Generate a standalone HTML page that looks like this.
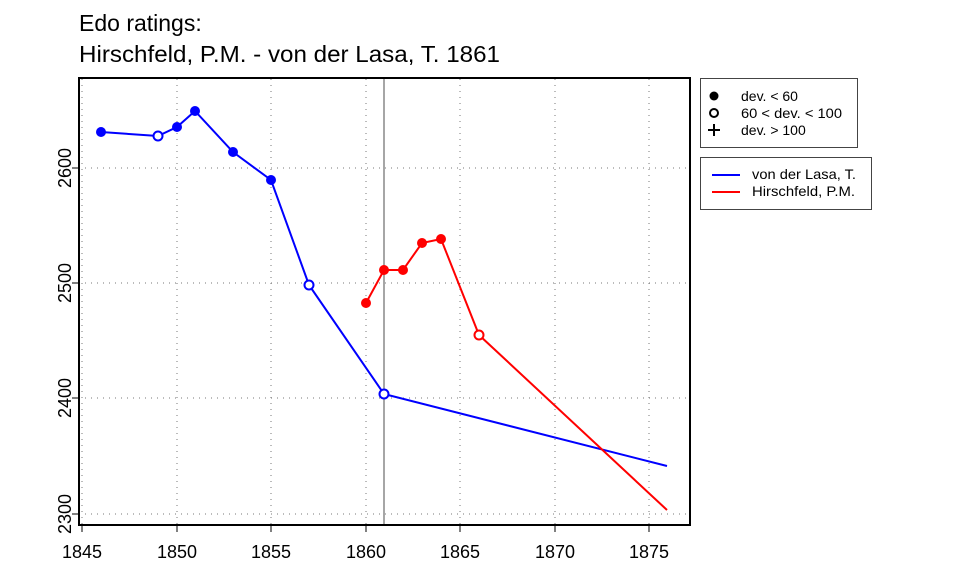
<!DOCTYPE html>
<html><head><style>body{margin:0;background:#fff}svg{display:block}text{font-family:"Liberation Sans",sans-serif}</style></head><body>
<svg width="960" height="576" viewBox="0 0 960 576" xmlns="http://www.w3.org/2000/svg">
<text x="79" y="31" font-size="23">Edo ratings:</text>
<text x="79" y="62" font-size="23" textLength="421" lengthAdjust="spacingAndGlyphs">Hirschfeld, P.M. - von der Lasa, T. 1861</text>
<g stroke="#777" stroke-dasharray="1,5" stroke-width="1">
<line x1="82" y1="79" x2="82" y2="525"/><line x1="177" y1="79" x2="177" y2="525"/><line x1="271" y1="79" x2="271" y2="525"/><line x1="366" y1="79" x2="366" y2="525"/><line x1="460" y1="79" x2="460" y2="525"/><line x1="555" y1="79" x2="555" y2="525"/><line x1="649" y1="79" x2="649" y2="525"/>
<line x1="79" y1="168" x2="690" y2="168"/><line x1="79" y1="283" x2="690" y2="283"/><line x1="79" y1="398" x2="690" y2="398"/><line x1="79" y1="514" x2="690" y2="514"/>
</g>
<line x1="384" y1="79" x2="384" y2="525" stroke="#888" stroke-width="1.5"/>
<rect x="79" y="78" width="611" height="447" fill="none" stroke="#000" stroke-width="2"/>
<g stroke="#000" stroke-width="1">
<line x1="82" y1="525" x2="82" y2="532"/><line x1="177" y1="525" x2="177" y2="532"/><line x1="271" y1="525" x2="271" y2="532"/><line x1="366" y1="525" x2="366" y2="532"/><line x1="460" y1="525" x2="460" y2="532"/><line x1="555" y1="525" x2="555" y2="532"/><line x1="649" y1="525" x2="649" y2="532"/>
<line x1="72" y1="168" x2="79" y2="168"/><line x1="72" y1="283" x2="79" y2="283"/><line x1="72" y1="398" x2="79" y2="398"/><line x1="72" y1="514" x2="79" y2="514"/>
</g>
<g font-size="18" text-anchor="middle">
<text x="82" y="558">1845</text><text x="177" y="558">1850</text><text x="271" y="558">1855</text><text x="366" y="558">1860</text><text x="460" y="558">1865</text><text x="555" y="558">1870</text><text x="649" y="558">1875</text>
<text transform="translate(71,168) rotate(-90)">2600</text><text transform="translate(71,283) rotate(-90)">2500</text><text transform="translate(71,398) rotate(-90)">2400</text><text transform="translate(71,514) rotate(-90)">2300</text>
</g>
<polyline fill="none" stroke="#00f" stroke-width="2" points="101,132 158,136 177,127 195,111 233,152 271,180 309,285 384,394 667,466"/>
<polyline fill="none" stroke="#f00" stroke-width="2" points="366,303 384,270 403,270 422,243 441,239 479,335 667,510"/>
<g fill="#00f"><circle cx="101" cy="132" r="5"/><circle cx="177" cy="127" r="5"/><circle cx="195" cy="111" r="5"/><circle cx="233" cy="152" r="5"/><circle cx="271" cy="180" r="5"/></g>
<g fill="#fff" stroke="#00f" stroke-width="2"><circle cx="158" cy="136" r="4.5"/><circle cx="309" cy="285" r="4.5"/><circle cx="384" cy="394" r="4.5"/></g>
<g fill="#f00"><circle cx="366" cy="303" r="5"/><circle cx="384" cy="270" r="5"/><circle cx="403" cy="270" r="5"/><circle cx="422" cy="243" r="5"/><circle cx="441" cy="239" r="5"/></g>
<circle cx="479" cy="335" r="4.5" fill="#fff" stroke="#f00" stroke-width="2"/>
<rect x="700.5" y="78.5" width="157" height="69" fill="#fff" stroke="#444"/>
<circle cx="714" cy="96" r="4.5"/><circle cx="714" cy="113" r="4" fill="none" stroke="#000" stroke-width="2"/>
<path d="M708 130h12M714 124v12" stroke="#000" stroke-width="2"/>
<g font-size="14"><text x="741" y="101">dev. &lt; 60</text><text x="741" y="118" textLength="101" lengthAdjust="spacingAndGlyphs">60 &lt; dev. &lt; 100</text><text x="741" y="135">dev. &gt; 100</text></g>
<rect x="700.5" y="157.5" width="171" height="52" fill="#fff" stroke="#444"/>
<line x1="712" y1="175" x2="740" y2="175" stroke="#00f" stroke-width="2"/><line x1="712" y1="192" x2="740" y2="192" stroke="#f00" stroke-width="2"/>
<g font-size="14"><text x="752" y="179" textLength="104" lengthAdjust="spacingAndGlyphs">von der Lasa, T.</text><text x="752" y="196" textLength="103" lengthAdjust="spacingAndGlyphs">Hirschfeld, P.M.</text></g>
</svg></body></html>
